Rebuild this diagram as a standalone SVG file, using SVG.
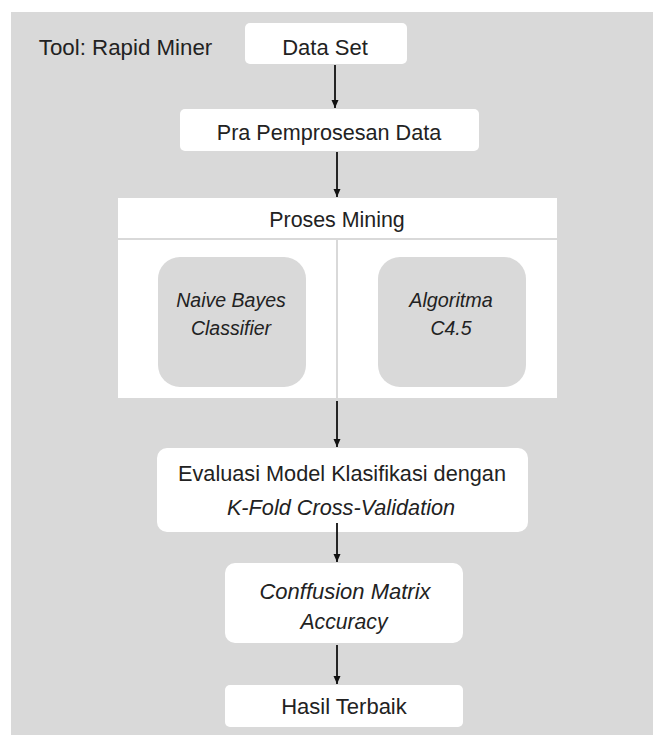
<svg xmlns="http://www.w3.org/2000/svg" width="653" height="735" viewBox="0 0 653 735">
<defs>
<marker id="ah" markerWidth="10" markerHeight="10" refX="8" refY="4" orient="auto" markerUnits="userSpaceOnUse">
<path d="M0,0.5 L8,4 L0,7.5 Z" fill="#111"/>
</marker>
<style>
text{font-family:"Liberation Sans",Arial,sans-serif;font-size:21.5px;fill:#222;text-anchor:middle}
.it{font-style:italic}
.box{fill:#fff}
.gbox{fill:#d9d9d9}
.conn line{stroke:#111;stroke-width:1.8;marker-end:url(#ah)}
</style>
</defs>
<rect x="0" y="0" width="653" height="735" fill="#fff"/>
<rect x="11" y="12" width="642" height="723" fill="#d9d9d9"/>
<text x="125.5" y="55" style="font-size:22.3px">Tool: Rapid Miner</text>
<g id="dataset">
<rect class="box" x="245" y="23" width="162" height="41" rx="5"/>
<text x="325" y="55" style="font-size:22px">Data Set</text>
</g>
<g id="pra">
<rect class="box" x="180" y="109" width="299" height="42" rx="5"/>
<text x="329" y="140" style="font-size:21.6px">Pra Pemprosesan Data</text>
</g>
<g id="proses">
<rect class="box" x="118" y="198" width="439" height="200"/>
<line x1="118" y1="239" x2="557" y2="239" stroke="#d9d9d9" stroke-width="2"/>
<line x1="337" y1="239" x2="337" y2="398" stroke="#d9d9d9" stroke-width="2"/>
<text x="337" y="227" style="font-size:21.4px">Proses Mining</text>
</g>
<g id="naive">
<rect class="gbox" x="158" y="257" width="148" height="130" rx="22"/>
<text class="it" x="231" y="307" style="font-size:19.5px">Naive Bayes</text>
<text class="it" x="231" y="335" style="font-size:19.5px">Classifier</text>
</g>
<g id="c45">
<rect class="gbox" x="378" y="257" width="148" height="130" rx="22"/>
<text class="it" x="451" y="307" style="font-size:19.8px">Algoritma</text>
<text class="it" x="451" y="335" style="font-size:19.5px">C4.5</text>
</g>
<g id="evaluasi">
<rect class="box" x="157" y="448" width="371" height="84" rx="10"/>
<text x="342" y="481" style="font-size:21.7px">Evaluasi Model Klasifikasi dengan</text>
<text class="it" x="341" y="515" style="font-size:21.7px">K-Fold Cross-Validation</text>
</g>
<g id="confusion">
<rect class="box" x="225" y="563" width="238" height="80" rx="10"/>
<text class="it" x="345" y="599" style="font-size:22px">Conffusion Matrix</text>
<text class="it" x="344" y="629" style="font-size:21.2px">Accuracy</text>
</g>
<g id="hasil">
<rect class="box" x="225" y="685" width="238" height="42" rx="5"/>
<text x="344" y="714" style="font-size:22px">Hasil Terbaik</text>
</g>
<g class="conn" id="connectors">
<line x1="335" y1="65" x2="335" y2="108"/>
<line x1="337" y1="152" x2="337" y2="197"/>
<line x1="337" y1="401" x2="337" y2="447"/>
<line x1="337" y1="523" x2="337" y2="562"/>
<line x1="337" y1="645" x2="337" y2="684"/>
</g>
</svg>
